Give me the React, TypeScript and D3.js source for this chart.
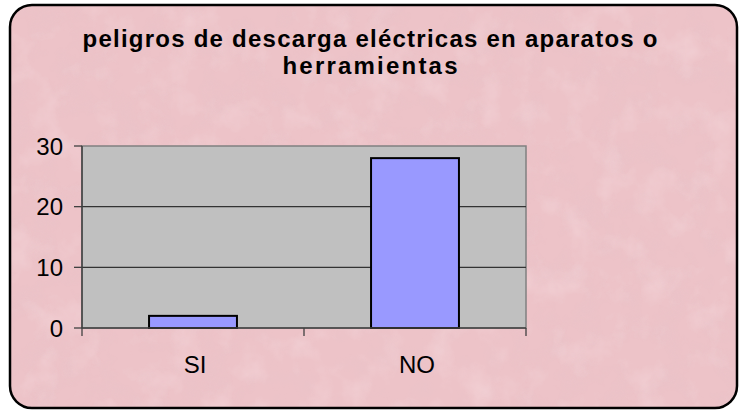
import React from "react";
import * as d3 from "d3";

const categories = ["SI", "NO"];
const values = [2, 28];
const yTicks = [0, 10, 20, 30];
const titleLines = ["peligros de descarga eléctricas en aparatos o", "herramientas"];

export default function App() {
  const W = 740, H = 412;
  const plot = { left: 82, right: 526, top: 146, bottom: 328 };
  const x = d3.scaleBand<string>().domain(categories).range([plot.left, plot.right]).padding(0);
  const y = d3.scaleLinear().domain([0, 30]).range([plot.bottom, plot.top]);
  const barW = x.bandwidth() * 0.396;
  const edges = [...categories.map((c) => x(c)!), plot.right];
  const titleWidths = [575, 175];

  return (
    <svg width={W} height={H} style={{ position: "absolute", left: 0, top: 0 }} fontFamily="'Liberation Sans', Arial, sans-serif">
      <defs>
        <filter id="texDark" x="0" y="0" width="100%" height="100%">
          <feTurbulence type="fractalNoise" baseFrequency="0.035" numOctaves="4" seed="7" result="n" />
          <feColorMatrix in="n" type="matrix" values="0 0 0 0 0.78  0 0 0 0 0.55  0 0 0 0 0.6  0 0 0 1.6 -0.75" />
        </filter>
        <filter id="texLight" x="0" y="0" width="100%" height="100%">
          <feTurbulence type="fractalNoise" baseFrequency="0.03" numOctaves="4" seed="23" result="n" />
          <feColorMatrix in="n" type="matrix" values="0 0 0 0 1  0 0 0 0 0.9  0 0 0 0 0.92  0 0 0 1.6 -0.75" />
        </filter>
        <clipPath id="frameClip">
          <rect x={10} y={5} width={727} height={403} rx={22} />
        </clipPath>
      </defs>
      <rect width={W} height={H} fill="#ffffff" />
      <g clipPath="url(#frameClip)">
        <rect x={10} y={5} width={727} height={403} fill="#edc3c8" />
        <rect x={10} y={5} width={727} height={403} filter="url(#texDark)" opacity={0.35} />
        <rect x={10} y={5} width={727} height={403} filter="url(#texLight)" opacity={0.3} />
      </g>
      <rect x={10} y={5} width={727} height={403} rx={22} fill="none" stroke="#000" strokeWidth={2.5} />

      {titleLines.map((t, i) => (
        <text key={i} x={370} y={47 + i * 27} textAnchor="middle" fontWeight="bold" fontSize={24} textLength={titleWidths[i]} lengthAdjust="spacing" fill="#000">
          {t}
        </text>
      ))}

      <rect x={plot.left} y={plot.top} width={plot.right - plot.left} height={plot.bottom - plot.top} fill="#c0c0c0" stroke="#808080" strokeWidth={1.5} />
      {yTicks.filter((t) => t > 0 && t < 30).map((t) => (
        <line key={t} x1={plot.left} x2={plot.right} y1={y(t)} y2={y(t)} stroke="#333" strokeWidth={1.3} />
      ))}
      {categories.map((c, i) => (
        <rect key={c} x={x(c)! + (x.bandwidth() - barW) / 2} y={y(values[i])} width={barW} height={y(0) - y(values[i])} fill="#9999ff" stroke="#000" strokeWidth={2} />
      ))}
      <line x1={plot.left} x2={plot.left} y1={plot.top} y2={plot.bottom} stroke="#404040" strokeWidth={1.5} />
      <line x1={plot.left} x2={plot.right} y1={plot.bottom} y2={plot.bottom} stroke="#404040" strokeWidth={1.5} />
      {yTicks.map((t) => (
        <g key={t}>
          <line x1={plot.left - 8} x2={plot.left} y1={y(t)} y2={y(t)} stroke="#404040" strokeWidth={1.3} />
          <text x={63} y={y(t) + 8.5} textAnchor="end" fontSize={24} fill="#000">{t}</text>
        </g>
      ))}
      {edges.map((e, i) => (
        <line key={i} x1={e} x2={e} y1={plot.bottom} y2={plot.bottom + 8} stroke="#404040" strokeWidth={1.3} />
      ))}
      {categories.map((c) => (
        <text key={c} x={x(c)! + x.bandwidth() / 2 + 2} y={373} textAnchor="middle" fontSize={24} fill="#000">{c}</text>
      ))}
    </svg>
  );
}
